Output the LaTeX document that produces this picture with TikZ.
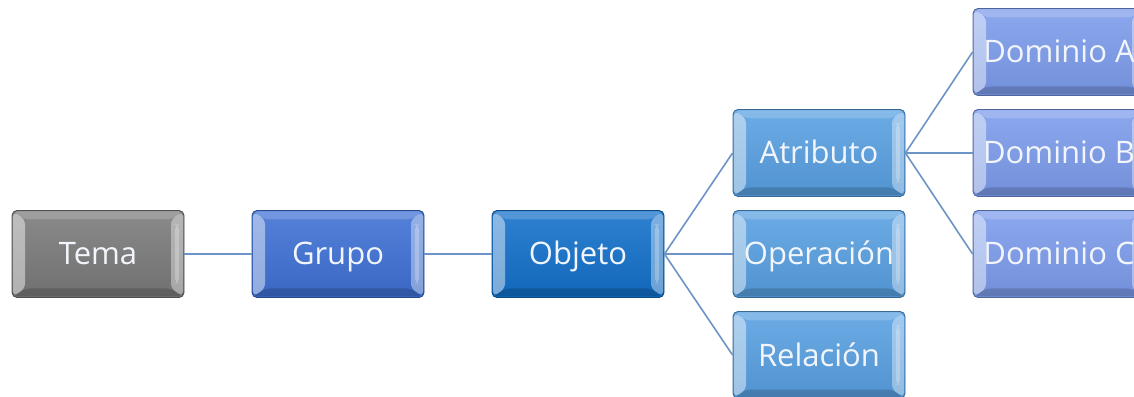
\documentclass[tikz,border=0pt]{standalone}
\usepackage{fontspec}
\newfontfamily\tilefont{Open Sans}
\usetikzlibrary{calc}

\definecolor{temac}{RGB}{122,122,122}
\definecolor{grupoc}{RGB}{62,112,212}
\definecolor{objetoc}{RGB}{18,112,202}
\definecolor{levelc}{RGB}{88,160,226}
\definecolor{dominioc}{RGB}{124,156,236}
\definecolor{linkc}{RGB}{108,148,198}
\definecolor{labelc}{RGB}{242,246,252}

\tikzset{
  tile/.style={rectangle, rounded corners=5pt,
    minimum width=172pt, minimum height=87pt, inner sep=0pt,
    text height=22pt, text depth=0pt, text=labelc,
    font=\tilefont\fontsize{31}{36}\selectfont,
    draw=#1!65!black, line width=0.9pt,
    top color=#1!88!white, bottom color=#1!92!black,
    path picture={
      \path (path picture bounding box.north west) coordinate (pnw)
            (path picture bounding box.south east) coordinate (pse)
            (pnw |- pse) coordinate (psw)
            (pse |- pnw) coordinate (pne);
      % top and bottom bevels
      \fill[white, opacity=.18] ($(pnw)+(1pt,-1pt)$) -- ($(pne)+(-1pt,-1pt)$)
        -- ($(pne)+(-13pt,-9pt)$) -- ($(pnw)+(13pt,-9pt)$) -- cycle;
      \fill[black, opacity=.16] ($(psw)+(1pt,1pt)$) -- ($(pse)+(-1pt,1pt)$)
        -- ($(pse)+(-13pt,9pt)$) -- ($(psw)+(13pt,9pt)$) -- cycle;
      % side bevels
      \fill[white, opacity=.45] ($(pnw)+(1pt,-1pt)$) -- ($(pnw)+(13pt,-9pt)$)
        -- ($(psw)+(13pt,9pt)$) -- ($(psw)+(1pt,1pt)$) -- cycle;
      \fill[white, opacity=.38] ($(pne)+(-1pt,-1pt)$) -- ($(pne)+(-13pt,-9pt)$)
        -- ($(pse)+(-13pt,9pt)$) -- ($(pse)+(-1pt,1pt)$) -- cycle;
      \fill[white, opacity=.25] ($(pne)+(-5pt,-14pt)$) rectangle ($(pse)+(-9pt,14pt)$);
    }},
  link/.style={draw=linkc, line width=1.6pt}
}

\begin{document}
\begin{tikzpicture}[x=1pt, y=1pt]
  \useasboundingbox (0,0) rectangle (1134,396);
  \clip (0,0) rectangle (1134,396);

  % hierarchy tiles, one column per level
  \node[tile=temac]    (tema)   at (98,142)   {Tema};
  \node[tile=grupoc]   (grupo)  at (338,142)  {Grupo};
  \node[tile=objetoc]  (objeto) at (578,142)  {Objeto};
  \node[tile=levelc]   (atrib)  at (819,243)  {Atributo};
  \node[tile=levelc]   (oper)   at (819,142)  {Operación};
  \node[tile=levelc]   (rel)    at (819,41)   {Relación};
  \node[tile=dominioc] (domA)   at (1059,344) {Dominio A};
  \node[tile=dominioc] (domB)   at (1059,243) {Dominio B};
  \node[tile=dominioc] (domC)   at (1059,142) {Dominio C};

  % connectors
  \draw[link] (tema.east) -- (grupo.west);
  \draw[link] (grupo.east) -- (objeto.west);
  \draw[link] (objeto.east) -- (atrib.west);
  \draw[link] (objeto.east) -- (oper.west);
  \draw[link] (objeto.east) -- (rel.west);
  \draw[link] (atrib.east) -- (domA.west);
  \draw[link] (atrib.east) -- (domB.west);
  \draw[link] (atrib.east) -- (domC.west);
\end{tikzpicture}
\end{document}
